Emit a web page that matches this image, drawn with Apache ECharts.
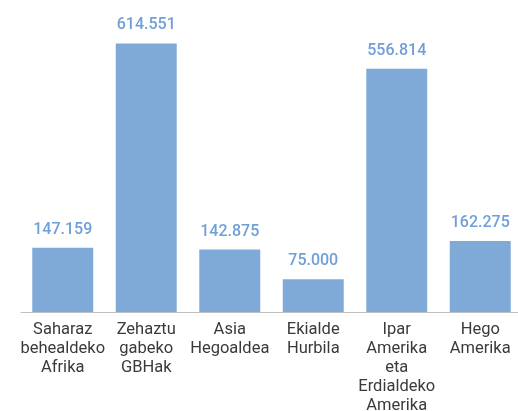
<!DOCTYPE html>
<html>
<head>
<meta charset="utf-8">
<script src="https://cdn.jsdelivr.net/npm/echarts@6/dist/echarts.min.js"></script>
<style>
  html, body { margin: 0; padding: 0; background: #fff; }
  #chart { width: 518px; height: 411px; }
</style>
</head>
<body>
<div id="chart"></div>
<script>
// eskualdeak (kategoriak)
const categories = [
    'Saharaz\nbehealdeko\nAfrika',
    'Zehaztu\ngabeko\nGBHak',
    'Asia\nHegoaldea',
    'Ekialde\nHurbila',
    'Ipar\nAmerika\neta\nErdialdeko\nAmerika',
    'Hego\nAmerika'
];
const values = [147159, 614551, 142875, 75000, 556814, 162275];

/* milakoen bereizlea puntuarekin */
function fmt (v) {
    return String(v).replace(/\B(?=(\d{3})+(?!\d))/g, '.');
}

const myChart = echarts.init(document.getElementById('chart'));
myChart.setOption({
    animation: false,
    grid: {
        left: 21,
        right: -4,
        top: 28,
        bottom: 99,
        outerBoundsMode: 'none'
    },
    xAxis: {
        type: 'category',
        data: categories,
        axisLine: { lineStyle: { color: '#bfbfbf', width: 1 } },
        axisTick: { show: false },
        axisLabel: {
            color: '#3a3a3a',
            fontFamily: 'Roboto',
            fontSize: 16.5,
            lineHeight: 19,
            margin: 8,
            interval: 0
        }
    },
    yAxis: {
        type: 'value',
        min: 0,
        max: 650000,
        show: false,
        splitLine: { show: false }
    },
    series: [{
        type: 'bar',
        data: values,
        barWidth: '73%',
        itemStyle: { color: '#7faad8' },
        label: {
            show: true,
            position: 'top',
            distance: 10,
            color: '#6f9fd8',
            fontFamily: 'Roboto',
            fontSize: 16,
            fontWeight: 500,
            formatter: p => fmt(p.value)
        }
    }]
});
</script>
</body>
</html>
